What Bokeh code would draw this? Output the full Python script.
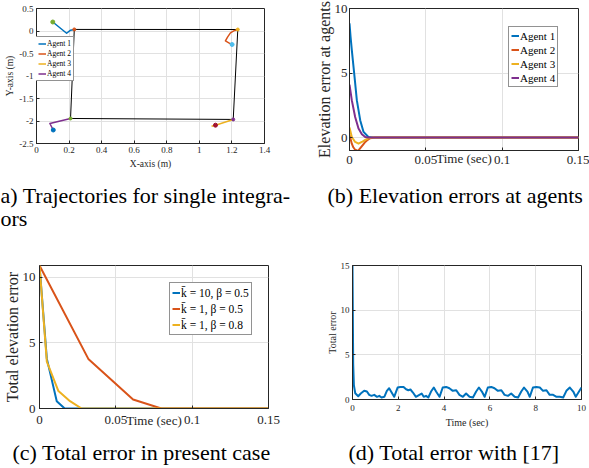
import math
from bokeh.plotting import figure
from bokeh.models import Label, Legend, LegendItem, FixedTicker, Range1d
from bokeh.layouts import column, row
from bokeh.embed import file_html
from bokeh.resources import INLINE

# ---------------- (a) trajectories ----------------
agent_names = ["Agent 1", "Agent 2", "Agent 3", "Agent 4"]
a1_x = [0.100, 0.185, 0.209, 0.232]
a1_y = [0.200, -0.050, 0.018, 0.035]
a2_x = [1.201, 1.181, 1.160, 1.174, 1.191, 1.211, 1.236]
a2_y = [-0.300, -0.264, -0.220, -0.131, -0.042, 0.002, 0.033]
a3_x = [1.075, 1.099, 1.208]
a3_y = [-2.118, -2.093, -1.965]
a4_x = [0.103, 0.082, 0.209]
a4_y = [-2.200, -2.056, -1.944]
form_x = [0.232, 1.236, 1.208, 0.209, 0.232]
form_y = [0.035, 0.033, -1.965, -1.944, 0.035]
start_x = [0.100, 1.201, 1.099, 0.103]
start_y = [0.200, -0.300, -2.093, -2.200]
end_x = [0.232, 1.236, 1.208, 0.209]
end_y = [0.035, 0.033, -1.965, -1.944]
a_xticks = [0, 0.2, 0.4, 0.6, 0.8, 1.0, 1.2, 1.4]
a_xlabels = ["0", "0.2", "0.4", "0.6", "0.8", "1", "1.2", "1.4"]
a_yticks = [-2.5, -2.0, -1.5, -1.0, -0.5, 0, 0.5]
a_ylabels = ["-2.5", "-2", "-1.5", "-1", "-0.5", "0", "0.5"]

# ---------------- (b) elevation errors at agents ----------------
b1_t = [0, 0.0007, 0.0015, 0.0033, 0.0048, 0.0070, 0.0092, 0.0124, 0.0157, 0.15]
b1_e = [8.85, 7.8, 6.8, 4.7, 2.9, 1.35, 0.44, 0.05, 0.0, 0.0]
b2_t = [0, 0.0008, 0.0015, 0.0025, 0.0037, 0.0055, 0.0076, 0.0092, 0.0103, 0.0114, 0.0135, 0.0168, 0.15]
b2_e = [0.2, -0.15, -0.47, -0.75, -0.94, -1.04, -0.73, -0.5, -0.34, -0.22, -0.05, 0.0, 0.0]
b3_t = [0, 0.0015, 0.0037, 0.0059, 0.0081, 0.0103, 0.0124, 0.0146, 0.15]
b3_e = [0.78, 0.05, -0.34, -0.47, -0.34, -0.18, -0.06, 0.0, 0.0]
b4_t = [0, 0.0015, 0.0037, 0.0059, 0.0081, 0.0103, 0.0124, 0.15]
b4_e = [4.1, 2.9, 1.6, 0.7, 0.26, 0.05, 0.0, 0.0]
bc_xticks = [0, 0.05, 0.1, 0.15]
bc_xlabels = ["0", "0.05", "0.1", "0.15"]
b_yticks = [0, 5, 10]
b_ylabels = ["0", "5", "10"]

# ---------------- (c) total error, present case ----------------
c_names = ["k\u0304 = 10, \u03b2 = 0.5", "k\u0304 = 1, \u03b2 = 0.5", "k\u0304 = 1, \u03b2 = 0.8"]
c1_t = [0, 0.0048, 0.0113, 0.0165, 0.15]
c1_e = [10.9, 3.8, 0.56, 0.0, 0.0]
c2_t = [0, 0.032, 0.0613, 0.0798, 0.15]
c2_e = [10.9, 3.78, 0.69, 0.0, 0.0]
c3_t = [0, 0.0048, 0.0124, 0.0200, 0.0276, 0.15]
c3_e = [10.9, 3.57, 1.33, 0.56, 0.0, 0.0]
c_yticks = [0, 5, 10]
c_ylabels = ["0", "5", "10"]

# ---------------- (d) total error with [17] ----------------
d_t = [0, 0.03, 0.06, 0.12, 0.25, 0.36, 0.51, 0.63, 0.73, 0.83, 0.95, 1.07, 1.17, 1.27, 1.39,
       1.5, 1.6, 1.71, 1.82, 1.97, 2.09, 2.23, 2.34, 2.44, 2.53, 2.64, 2.77, 2.92, 3.02, 3.11,
       3.21, 3.31, 3.43, 3.55, 3.65, 3.8, 3.94, 4.09, 4.23, 4.38, 4.53, 4.67, 4.82, 4.96, 5.11,
       5.26, 5.4, 5.52, 5.65, 5.77, 5.91, 6.06, 6.2, 6.35, 6.5, 6.64, 6.79, 6.93, 7.08, 7.23,
       7.37, 7.49, 7.64, 7.74, 7.88, 8.03, 8.18, 8.32, 8.47, 8.61, 8.76, 8.91, 9.05, 9.2, 9.34,
       9.49, 9.64, 9.75, 10.0]
d_e = [15.0, 4.0, 1.6, 0.7, 0.37, 0.67, 0.97, 0.89, 0.52, 0.41, 0.52, 0.3, 0.41, 0.22, 0.3,
       0.97, 1.26, 0.78, 0.3, 1.34, 1.41, 1.41, 1.15, 1.04, 1.12, 0.78, 0.3, 0.52, 0.67, 0.3,
       0.41, 0.22, 0.89, 1.34, 0.89, 0.3, 1.34, 1.41, 1.26, 0.97, 1.04, 0.52, 0.3, 0.67, 0.3,
       0.22, 0.89, 1.34, 0.89, 0.3, 1.34, 1.41, 1.26, 0.97, 1.04, 0.52, 0.41, 0.67, 0.3, 0.22,
       0.89, 1.34, 0.89, 0.3, 1.34, 1.41, 1.34, 0.97, 1.04, 0.52, 0.52, 0.3, 0.3, 0.22, 0.97,
       1.34, 0.89, 0.3, 1.34]
d_xticks = [0, 2, 4, 6, 8, 10]
d_xlabels = ["0", "2", "4", "6", "8", "10"]
d_yticks = [0, 5, 10, 15]
d_ylabels = ["0", "5", "10", "15"]

# ---------------- captions ----------------
cap_a = ["a) Trajectories for single integra-", "ors"]
cap_b = "(b) Elevation errors at agents"
cap_c = "(c) Total error in present case"
cap_d = "(d) Total error with [17]"

# ---------------- styles ----------------
FONT = "Liberation Serif"
AXC = "#262626"
GRIDC = "#e1e1e1"
BLUE, ORANGE, YELLOW, PURPLE = "#0072BD", "#D95319", "#EDB120", "#7E2F8E"
GREEN, LBLUE, DRED = "#77AC30", "#4DBEEE", "#A2142F"
CAP = "22px"


def make(fw, fh, xr, yr, left, right, top, bottom):
    p = figure(frame_width=fw, frame_height=fh, x_range=Range1d(*xr), y_range=Range1d(*yr),
               output_backend="svg", toolbar_location=None, title=None,
               min_border_left=left, min_border_right=right,
               min_border_top=top, min_border_bottom=bottom)
    p.outline_line_color = AXC
    p.outline_line_width = 1
    p.background_fill_color = "white"
    p.border_fill_color = "white"
    p.grid.grid_line_color = GRIDC
    return p


def style_axes(p, xt, xl, yt, yl, size, xstand, ystand,
               xlabel, ylabel, xlsize, ylsize, xls, yls):
    p.xaxis.ticker = FixedTicker(ticks=xt)
    p.yaxis.ticker = FixedTicker(ticks=yt)
    p.xaxis.major_label_overrides = {t: l for t, l in zip(xt, xl)}
    p.yaxis.major_label_overrides = {t: l for t, l in zip(yt, yl)}
    p.xaxis.major_label_standoff = xstand
    p.yaxis.major_label_standoff = ystand
    p.xaxis.axis_label = xlabel
    p.yaxis.axis_label = ylabel
    p.xaxis.axis_label_text_font_size = xlsize
    p.yaxis.axis_label_text_font_size = ylsize
    p.xaxis.axis_label_standoff = xls
    p.yaxis.axis_label_standoff = yls
    for ax in (p.xaxis[0], p.yaxis[0]):
        ax.axis_line_color = AXC
        ax.major_tick_line_color = AXC
        ax.major_tick_in = 3
        ax.major_tick_out = 0
        ax.minor_tick_line_color = None
        ax.major_label_text_font = FONT
        ax.major_label_text_font_size = size
        ax.major_label_text_color = AXC
        ax.axis_label_text_font = FONT
        ax.axis_label_text_font_style = "normal"
        ax.axis_label_text_color = AXC


def legend(p, items, loc, size, gw, gh, spacing, pad):
    lg = Legend(items=items, location=loc, margin=0, padding=pad, spacing=spacing,
                glyph_width=gw, glyph_height=gh, label_height=gh, label_standoff=1,
                label_text_font=FONT, label_text_font_size=size, label_text_color="black",
                border_line_color=AXC, border_line_width=1, background_fill_alpha=1.0)
    p.add_layout(lg)


def caption(width, height, lines):
    # lines: (text, x from left, y from top) in pixels of this small canvas
    p = figure(width=width, height=height, x_range=Range1d(0, width), y_range=Range1d(0, height),
               output_backend="svg", toolbar_location=None, title=None,
               x_axis_type=None, y_axis_type=None,
               min_border_left=0, min_border_right=0, min_border_top=0, min_border_bottom=0)
    p.outline_line_color = None
    p.background_fill_color = "white"
    p.border_fill_color = "white"
    for text, x, y in lines:
        p.add_layout(Label(x=x, y=height - y, text=text, text_font=FONT, text_font_size=CAP,
                           text_align="left", text_baseline="middle", text_color="black"))
    return p


# ---------------- panel (a) ----------------
pa = make(228, 135, (0, 1.4), (-2.5, 0.5), 36, 31, 8, 39)
style_axes(pa, a_xticks, a_xlabels, a_yticks, a_ylabels, "9px", 3, 3,
           "X-axis (m)", "Y-axis (m)", "9.5px", "9.5px", 3, 1)
pa.line(form_x, form_y, line_color="black", line_width=1)
ra = []
for xs, ys, c in zip([a1_x, a2_x, a3_x, a4_x], [a1_y, a2_y, a3_y, a4_y], [BLUE, ORANGE, YELLOW, PURPLE]):
    ra.append(pa.line(xs, ys, line_color=c, line_width=1.5, line_join="round"))
pa.scatter(start_x, start_y, size=4, color=[GREEN, LBLUE, DRED, BLUE])
pa.scatter(end_x, end_y, size=3, color=[ORANGE, YELLOW, PURPLE, GREEN])
legend(pa, [LegendItem(label=n, renderers=[r]) for n, r in zip(agent_names, ra)],
       (-1, 62), "7.5px", 8, 9, 1, 2)

# ---------------- panel (b) ----------------
pb = make(229, 142, (0, 0.15), (-1, 10), 54, 11, 8, 32)
style_axes(pb, bc_xticks, bc_xlabels, b_yticks, b_ylabels, "13px", 5, 2,
           "Time (sec)", "Elevation error at agents", "13px", "16px", -16, -1)
rb = []
for ts, es, c in zip([b1_t, b2_t, b3_t, b4_t], [b1_e, b2_e, b3_e, b4_e], [BLUE, ORANGE, YELLOW, PURPLE]):
    rb.append(pb.line(ts, es, line_color=c, line_width=2, line_join="round"))
legend(pb, [LegendItem(label=n, renderers=[r]) for n, r in zip(agent_names, rb)],
       (159, 63), "11px", 8, 13, 1, 2)

# ---------------- panel (c) ----------------
pc = make(229, 143, (0, 0.15), (0, 10.9), 36, 30, 28, 32)
style_axes(pc, bc_xticks, bc_xlabels, c_yticks, c_ylabels, "13px", 7, 4,
           "Time (sec)", "Total elevation error", "13px", "16px", -14, -1)
rc = []
for ts, es, c in zip([c1_t, c2_t, c3_t], [c1_e, c2_e, c3_e], [BLUE, ORANGE, YELLOW]):
    rc.append(pc.line(ts, es, line_color=c, line_width=2, line_join="round"))
legend(pc, [LegendItem(label=n, renderers=[r]) for n, r in zip(c_names, rc)],
       (130, 73), "11.5px", 8, 15, 1, 2)

# ---------------- panel (d) ----------------
pd_ = make(229, 134, (0, 10), (0, 15), 54, 11, 29, 40)
style_axes(pd_, d_xticks, d_xlabels, d_yticks, d_ylabels, "9px", 5, 3,
           "Time (sec)", "Total error", "10px", "10px", 3, 0)
pd_.line(d_t, d_e, line_color=BLUE, line_width=2, line_join="round")

# ---------------- captions ----------------
ca = caption(295, 54, [(cap_a[0], 0, 13), (cap_a[1], 0, 36)])
cb = caption(294, 54, [(cap_b, 32, 13)])
cc = caption(295, 29, [(cap_c, 12, 13)])
cd = caption(294, 29, [(cap_d, 53, 13)])

layout = column(row(pa, pb), row(ca, cb), row(pc, pd_), row(cc, cd))
open("out.html", "w").write(file_html(layout, INLINE))
